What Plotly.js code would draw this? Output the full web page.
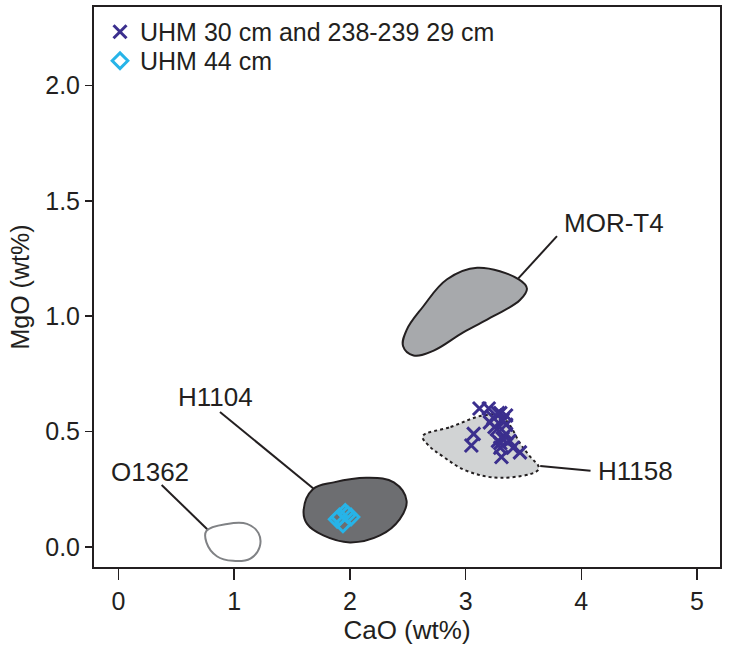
<!DOCTYPE html>
<html>
<head>
<meta charset="utf-8">
<script src="https://cdn.plot.ly/plotly-3.0.1.min.js"></script>
<style>
  html, body { margin: 0; padding: 0; background: #ffffff; }
  #chart { width: 732px; height: 652px; }
</style>
</head>
<body>
<div id="chart"></div>
<script>
// ---- Data ----
// Sample analyses
var uhm30Name = 'UHM 30 cm and 238-239 29 cm';
var uhm30CaO = [3.12, 3.20, 3.30, 3.32, 3.21, 3.07, 3.05, 3.27, 3.35, 3.28, 3.38, 3.30, 3.41, 3.31, 3.47, 3.35, 3.25, 3.32, 3.28, 3.35, 3.30, 3.24];
var uhm30MgO = [0.60, 0.60, 0.58, 0.55, 0.54, 0.49, 0.44, 0.51, 0.49, 0.46, 0.46, 0.43, 0.43, 0.39, 0.41, 0.57, 0.52, 0.47, 0.58, 0.53, 0.45, 0.56];

var uhm44Name = 'UHM 44 cm';
var uhm44CaO = [1.91, 1.96, 2.01, 1.94, 1.89, 1.98];
var uhm44MgO = [0.13, 0.15, 0.13, 0.10, 0.12, 0.14];

// Reference compositional fields (outlines)
var morName = 'MOR-T4';
var morCaO = [3.53, 3.46, 3.10, 2.84, 2.63, 2.49, 2.46, 2.55, 2.72, 2.98, 3.24, 3.47, 3.53];
var morMgO = [1.12, 1.16, 1.21, 1.16, 1.04, 0.94, 0.87, 0.83, 0.85, 0.93, 1.00, 1.07, 1.12];

var h1158Name = 'H1158';
var h1158CaO = [2.63, 2.87, 3.15, 3.30, 3.38, 3.47, 3.56, 3.63, 3.62, 3.30, 3.01, 2.81, 2.68, 2.63];
var h1158MgO = [0.48, 0.52, 0.57, 0.57, 0.53, 0.45, 0.39, 0.35, 0.33, 0.30, 0.33, 0.39, 0.44, 0.48];

var h1104Name = 'H1104';
var h1104CaO = [1.60, 1.68, 1.86, 2.15, 2.38, 2.49, 2.43, 2.26, 2.00, 1.77, 1.63, 1.60];
var h1104MgO = [0.16, 0.25, 0.28, 0.30, 0.28, 0.20, 0.12, 0.05, 0.02, 0.05, 0.10, 0.16];

var o1362Name = 'O1362';
var o1362CaO = [0.76, 0.94, 1.11, 1.21, 1.22, 1.14, 0.99, 0.85, 0.76, 0.76];
var o1362MgO = [0.07, 0.10, 0.10, 0.06, 0.00, -0.05, -0.06, -0.04, 0.02, 0.07];

// Axis ticks
var xTicks = [0, 1, 2, 3, 4, 5];
var yTicks = [0.0, 0.5, 1.0, 1.5, 2.0];

// ---- Label placement (layout) ----
var fieldLabels = [
  {text: morName,   x: 3.83, y: 1.405, xanchor: 'left',   lx0: 3.456, ly0: 1.164, lx1: 3.79, ly1: 1.347},
  {text: h1158Name, x: 4.13, y: 0.329, xanchor: 'left',   lx0: 3.645, ly0: 0.351, lx1: 4.08, ly1: 0.330},
  {text: h1104Name, x: 0.84, y: 0.648, xanchor: 'center', lx0: 0.877, ly0: 0.585, lx1: 1.70, ly1: 0.247},
  {text: o1362Name, x: 0.27, y: 0.323, xanchor: 'center', lx0: 0.373, ly0: 0.269, lx1: 0.767, ly1: 0.077}
];

var FONT = '"Liberation Sans", Arial, Helvetica, sans-serif';
var TXT = '#231f20';

function field(xs, ys, fill, lineColor, dash) {
  return {
    type: 'scatter', mode: 'lines', x: xs, y: ys,
    fill: 'toself', fillcolor: fill,
    line: {color: lineColor, width: 2, shape: 'spline', smoothing: 1.1, dash: dash || 'solid'},
    hoverinfo: 'skip', showlegend: false
  };
}

var traces = [
  field(morCaO, morMgO, '#a7a9ac', '#231f20'),
  field(h1158CaO, h1158MgO, '#d1d3d4', '#231f20', 'dot'),
  field(h1104CaO, h1104MgO, '#6d6e71', '#231f20'),
  field(o1362CaO, o1362MgO, '#ffffff', '#808285'),
  {
    type: 'scatter', mode: 'markers', name: uhm30Name,
    x: uhm30CaO, y: uhm30MgO, legend: 'legend',
    marker: {symbol: 'x-thin', size: 13, color: '#3b2f8e', line: {width: 3, color: '#3b2f8e'}}
  },
  {
    type: 'scatter', mode: 'markers', name: uhm44Name,
    x: uhm44CaO, y: uhm44MgO, legend: 'legend2',
    marker: {symbol: 'diamond-open', size: 12, color: '#27b4e8', line: {width: 3, color: '#27b4e8'}}
  }
];

var annotations = fieldLabels.map(function (f) {
  return {x: f.x, y: f.y, xref: 'x', yref: 'y', text: f.text, showarrow: false,
          xanchor: f.xanchor, yanchor: 'middle', font: {family: FONT, size: 26, color: TXT}};
});
var shapes = fieldLabels.map(function (f) {
  return {type: 'line', xref: 'x', yref: 'y', x0: f.lx0, y0: f.ly0, x1: f.lx1, y1: f.ly1,
          line: {color: '#231f20', width: 2}, layer: 'below'};
});

var legendBase = {
  x: 0.0096, xanchor: 'left', yanchor: 'middle',
  bgcolor: 'rgba(0,0,0,0)', borderwidth: 0,
  font: {family: FONT, size: 25, color: TXT}
};

var layout = {
  width: 732, height: 652,
  margin: {l: 94, r: 12, t: 7, b: 85},
  paper_bgcolor: '#ffffff', plot_bgcolor: '#ffffff',
  font: {family: FONT, color: TXT},
  showlegend: true,
  legend: Object.assign({}, legendBase, {y: 0.9554}),
  legend2: Object.assign({}, legendBase, {y: 0.9036}),
  xaxis: {
    range: [-0.2118, 5.199], tickvals: xTicks, ticktext: xTicks.map(String),
    showgrid: false, zeroline: false,
    showline: true, mirror: true, linecolor: '#231f20', linewidth: 2,
    ticks: 'outside', ticklen: 11, tickwidth: 1.5, tickcolor: '#231f20',
    tickfont: {family: FONT, size: 25, color: TXT},
    title: {text: 'CaO (wt%)', font: {family: FONT, size: 26, color: TXT}, standoff: 5}
  },
  yaxis: {
    range: [-0.0867, 2.340], tickvals: yTicks, ticktext: yTicks.map(function (v) { return v.toFixed(1); }),
    showgrid: false, zeroline: false,
    showline: true, mirror: true, linecolor: '#231f20', linewidth: 2,
    ticks: 'outside', ticklen: 7, tickwidth: 1.5, tickcolor: '#231f20',
    tickfont: {family: FONT, size: 25, color: TXT},
    title: {text: 'MgO (wt%)', font: {family: FONT, size: 25, color: TXT}, standoff: 8}
  },
  annotations: annotations,
  shapes: shapes
};

Plotly.newPlot('chart', traces, layout, {displayModeBar: false, staticPlot: true});
</script>
</body>
</html>
